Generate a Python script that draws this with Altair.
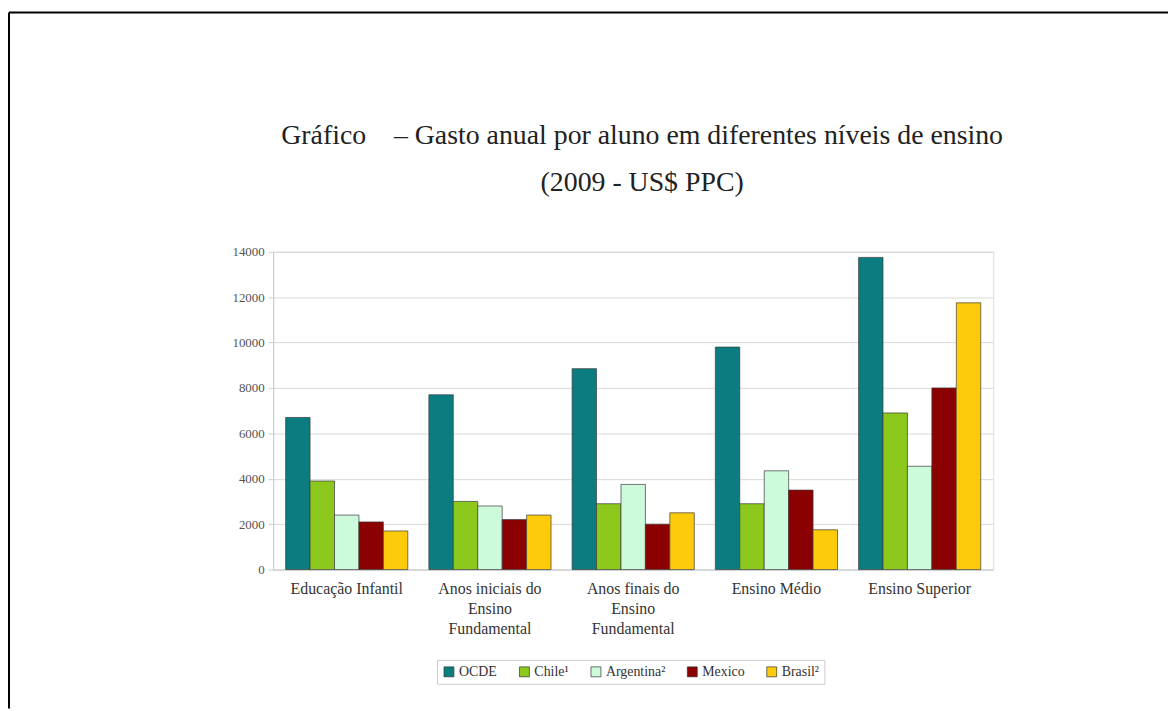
import altair as alt
import pandas as pd

categories = [
    "Educação Infantil",
    "Anos iniciais do\nEnsino\nFundamental",
    "Anos finais do\nEnsino\nFundamental",
    "Ensino Médio",
    "Ensino Superior",
]
series = ["OCDE", "Chile¹", "Argentina²", "Mexico", "Brasil²"]
colors = ["#0b7c80", "#8cc91c", "#ccfadb", "#8b0000", "#fdcb0a"]

ocde = [6700, 7700, 8850, 9800, 13750]
chile = [3900, 3000, 2900, 2900, 6900]
argentina = [2400, 2800, 3750, 4350, 4550]
mexico = [2100, 2200, 2000, 3500, 8000]
brasil = [1700, 2400, 2500, 1750, 11750]

values_by_series = [ocde, chile, argentina, mexico, brasil]
rows = []
for s, vals in zip(series, values_by_series):
    for c, v in zip(categories, vals):
        rows.append({"nivel": c, "pais": s, "valor": v})
df = pd.DataFrame(rows)

serif = "Liberation Serif"

bars = alt.Chart(df).mark_bar(stroke="#3a3a3a", strokeWidth=0.7).encode(
    x=alt.X(
        "nivel:N",
        sort=categories,
        title=None,
        scale=alt.Scale(paddingInner=0.147, paddingOuter=0.087),
        axis=alt.Axis(
            labelAngle=0,
            labelExpr="split(datum.label, '\\n')",
            labelFont=serif,
            labelFontSize=16,
            labelLineHeight=20,
            labelColor="#333",
            labelPadding=11,
            labelBaseline="top",
            ticks=False,
            domain=True,
            domainColor="#cccccc",
            grid=False,
        ),
    ),
    xOffset=alt.XOffset("pais:N", sort=series),
    y=alt.Y(
        "valor:Q",
        title=None,
        scale=alt.Scale(domain=[0, 14000]),
        axis=alt.Axis(
            values=list(range(0, 14001, 2000)),
            format="d",
            labelFont=serif,
            labelFontSize=13,
            labelColor="#555",
            labelPadding=4,
            tickColor="#cccccc",
            tickSize=5,
            domainColor="#cccccc",
            gridColor="#d9d9d9",
        ),
    ),
    color=alt.Color(
        "pais:N",
        sort=series,
        scale=alt.Scale(domain=series, range=colors),
        legend=alt.Legend(
            title=None,
            orient="none",
            direction="horizontal",
            legendX=165,
            legendY=411,
            symbolType="square",
            symbolSize=100,
            symbolStrokeColor="#333",
            symbolStrokeWidth=0.7,
            labelFont=serif,
            labelFontSize=14,
            labelColor="#333",
            labelOffset=3,
            columnPadding=20,
            strokeColor="#cccccc",
            padding=5,
            fillColor="white",
        ),
    ),
)

frame_data = alt.Data(values=[{"k": 1}])
top_line = alt.Chart(frame_data).mark_rule(color="black", strokeWidth=2).encode(
    x=alt.value(-266), x2=alt.value(901), y=alt.value(-241)
)
left_line = alt.Chart(frame_data).mark_rule(color="black", strokeWidth=2).encode(
    x=alt.value(-266), y=alt.value(-241), y2=alt.value(460)
)

chart = alt.layer(bars, top_line, left_line).properties(
    width=725,
    height=320,
    title=alt.TitleParams(
        text=[
            "Gráfico\u00a0\u00a0\u00a0\u00a0– Gasto anual por aluno em diferentes níveis de ensino",
            "(2009 - US$ PPC)",
        ],
        font=serif,
        fontSize=28,
        fontWeight="normal",
        color="#222",
        lineHeight=47,
        anchor="middle",
        frame="group",
        dx=9,
        offset=-187,
    ),
    autosize=alt.AutoSizeParams(type="none"),
    padding={"left": 267, "top": 243, "right": 176, "bottom": 140},
).configure_view(stroke=None).configure(background="white")

chart.save("out.html", embed_options={"renderer": "svg", "actions": False})
